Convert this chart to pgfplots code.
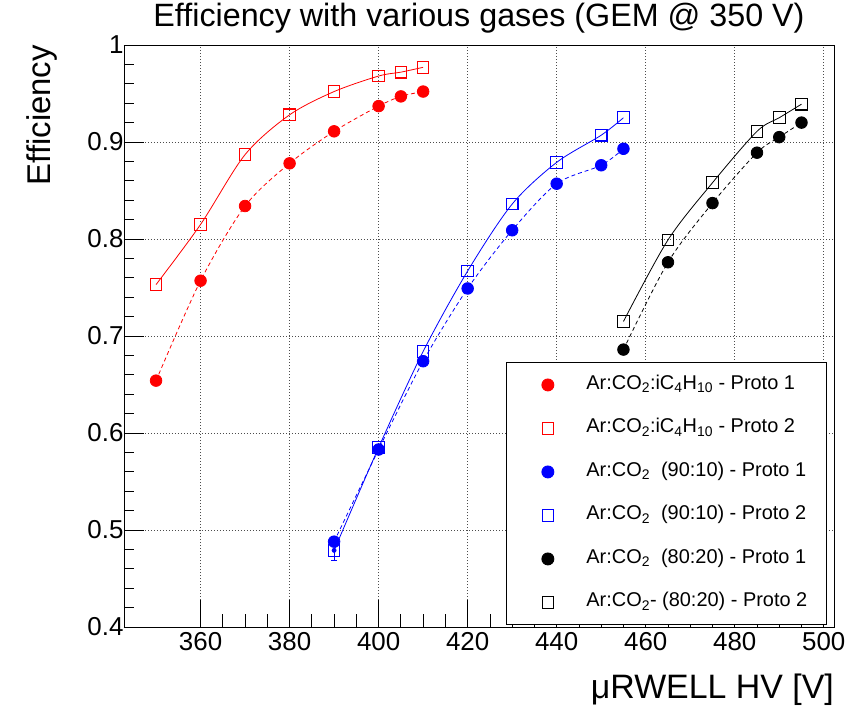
\documentclass[border=0pt]{standalone}
\usepackage{fontspec}
\setmainfont{Liberation Sans}
\usepackage{pgfplots}
\pgfplotsset{compat=1.18}

\begin{document}
\begin{tikzpicture}
\begin{axis}[
    scale only axis, width=710bp, height=582bp,
    xmin=342.8, xmax=502.3, ymin=0.4, ymax=1,
    xtick={360,380,400,420,440,460,480,500},
    ytick={0.4,0.5,0.6,0.7,0.8,0.9,1},
    minor x tick num=3, minor y tick num=4,
    tick align=inside, xtick pos=bottom, ytick pos=left,
    major tick length=20bp, minor tick length=10bp,
    xtick style={/pgfplots/major tick length=27bp, /pgfplots/minor tick length=13.5bp},
    tick style={black, line width=0.8bp},
    axis line style={line width=0.9bp},
    grid=major, grid style={black!70, line width=0.6bp, dash pattern=on 1bp off 2bp},
    /pgf/number format/assume math mode=true,
    ticklabel style={font=\fontsize{26}{30}\selectfont},
    xticklabel style={yshift=-2bp},
    yticklabel style={xshift=3bp},
    title={Efficiency with various gases (GEM @ 350 V)},
    title style={font=\fontsize{32.4}{38}\selectfont, at={(0.5,1)}, anchor=base, yshift=13bp, inner sep=0bp},
    xlabel={μRWELL HV [V]},
    every axis x label/.style={at={(axis description cs:1,0)}, anchor=base east, yshift=-71bp, inner sep=0bp, font=\fontsize{34}{40}\selectfont},
    ylabel={Efficiency},
    every axis y label/.style={at={(axis description cs:-0.1042,1)}, rotate=90, anchor=base east, inner sep=0bp, font=\fontsize{33}{40}\selectfont},
    legend image code/.code={\path (0bp,0bp) (67bp,0bp); \draw[#1] plot coordinates {(29bp,0bp)};},
    legend style={at={(axis cs:500.7,0.6732)}, anchor=north east, draw=black, line width=0.9bp,
        fill=white, font=\fontsize{20}{24}\selectfont, inner xsep=12bp, inner ysep=12bp,
        row sep=22.5bp, nodes={inner sep=0bp, text height=15bp, text depth=6bp}},
    legend cell align=left,
]
% red, Ar:CO2:iC4H10
\addplot[red, line width=0.8bp, dash pattern=on 4bp off 3bp, smooth, mark=*, mark size=5.8bp, mark options={solid}, forget plot] coordinates {
    (350,0.654)(360,0.757)(370,0.834)(380,0.878)(390,0.911)(400,0.937)(405,0.947)(410,0.952)
};
\addplot[red, line width=0.8bp, smooth, mark=square, mark size=5.8bp, mark options={solid, line width=1.1bp}, forget plot] coordinates {
    (350,0.753)(360,0.815)(370,0.887)(380,0.928)(390,0.952)(400,0.968)(405,0.972)(410,0.977)
};
% blue, Ar:CO2 90:10
\addplot[blue, line width=0.8bp, dash pattern=on 4bp off 3bp, smooth, mark=*, mark size=5.8bp, mark options={solid}, forget plot] coordinates {
    (390,0.488)(400,0.583)(410,0.674)(420,0.749)(430,0.809)(440,0.857)(450,0.876)(455,0.893)
};
\addplot[blue, line width=0.8bp, smooth, mark=square, mark size=5.8bp, mark options={solid, line width=1.1bp}, forget plot] coordinates {
    (390,0.479)(400,0.585)(410,0.684)(420,0.767)(430,0.836)(440,0.879)(450,0.907)(455,0.925)
};
\addplot[blue, line width=0.8bp, only marks, mark=none, forget plot,
    error bars/.cd, y dir=minus, y explicit, error bar style={line width=0.8bp},
    error mark options={rotate=90, mark size=3bp, line width=0.8bp}] coordinates {
    (390,0.479) +- (0,0.010)
};
% black, Ar:CO2 80:20
\addplot[black, line width=0.8bp, dash pattern=on 4bp off 3bp, smooth, mark=*, mark size=5.8bp, mark options={solid}, forget plot] coordinates {
    (455,0.686)(465,0.776)(475,0.837)(485,0.889)(490,0.905)(495,0.920)
};
\addplot[black, line width=0.8bp, smooth, mark=square, mark size=5.8bp, mark options={solid, line width=1.1bp}, forget plot] coordinates {
    (455,0.715)(465,0.799)(475,0.858)(485,0.911)(490,0.925)(495,0.939)
};

\addlegendimage{red, mark=*, mark size=6bp}
\addlegendentry{\makebox[228bp][l]{Ar:CO\textsubscript{2}:iC\textsubscript{4}H\textsubscript{10} - Proto 1}}
\addlegendimage{red, mark=square, mark size=5.8bp, line width=1.1bp}
\addlegendentry{\makebox[228bp][l]{Ar:CO\textsubscript{2}:iC\textsubscript{4}H\textsubscript{10} - Proto 2}}
\addlegendimage{blue, mark=*, mark size=6bp}
\addlegendentry{\makebox[228bp][l]{Ar:CO\textsubscript{2}\ \ (90:10) - Proto 1}}
\addlegendimage{blue, mark=square, mark size=5.8bp, line width=1.1bp}
\addlegendentry{\makebox[228bp][l]{Ar:CO\textsubscript{2}\ \ (90:10) - Proto 2}}
\addlegendimage{black, mark=*, mark size=6bp}
\addlegendentry{\makebox[228bp][l]{Ar:CO\textsubscript{2}\ \ (80:20) - Proto 1}}
\addlegendimage{black, mark=square, mark size=5.8bp, line width=1.1bp}
\addlegendentry{\makebox[228bp][l]{Ar:CO\textsubscript{2}- (80:20) - Proto 2}}
\end{axis}
\path ([xshift=-124bp,yshift=-88bp]current axis.south west) rectangle ([xshift=17bp,yshift=45bp]current axis.north east);
\end{tikzpicture}
\end{document}
